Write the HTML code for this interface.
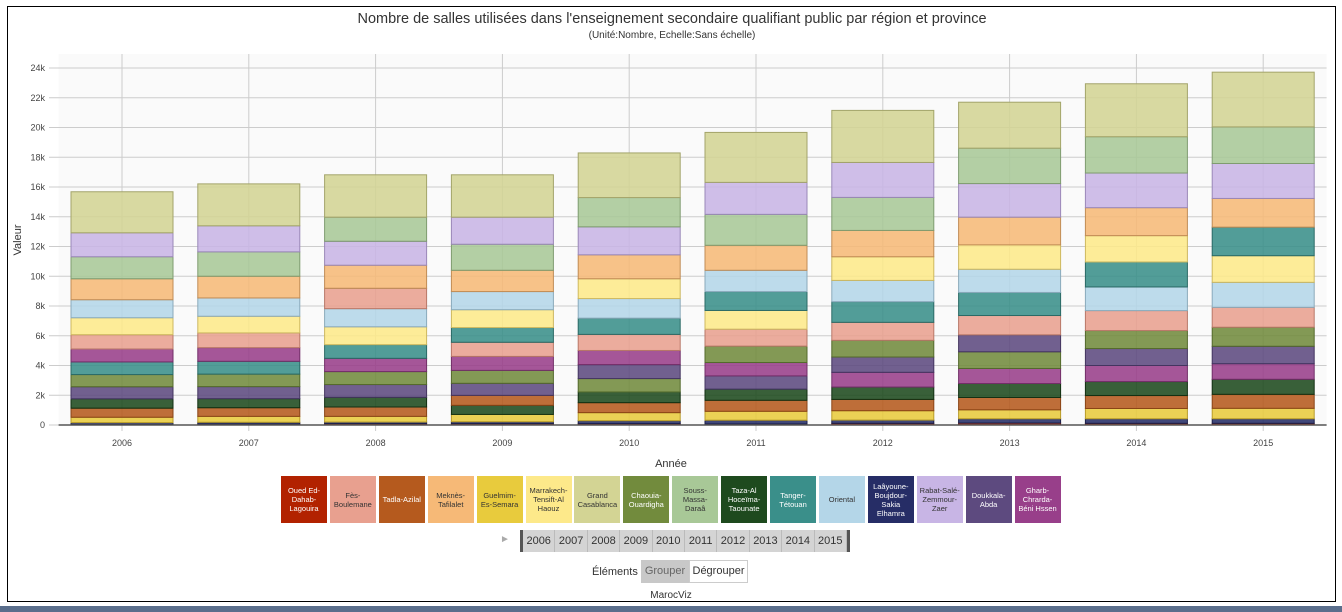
<!DOCTYPE html>
<html><head><meta charset="utf-8">
<style>
body{margin:0;width:1342px;height:612px;overflow:hidden;background:#fff;font-family:"Liberation Sans",sans-serif;position:relative}
#frame{position:absolute;left:7px;top:6px;width:1329px;height:596px;border:1.5px solid #000;box-sizing:border-box}
#strip{position:absolute;left:0;top:606px;width:1342px;height:6px;background:#5a6e8c}
.leg{position:absolute;top:476px;width:46px;height:47px;font-size:7.5px;line-height:9px;text-align:center;display:flex;align-items:center;justify-content:center;color:#fff;box-sizing:border-box;padding:0 2px;word-break:break-word}
#years{position:absolute;left:520px;top:530px;width:330px;height:22px;background:#d4d4d4;border-left:3px solid #555;border-right:3px solid #555;box-sizing:border-box;display:flex}
#years div{width:32.4px;font-size:11px;line-height:22px;text-align:center;color:#333;border-right:1px solid #bbb;box-sizing:border-box}
</style></head><body>
<div id="frame"></div>
<div id="strip"></div>
<svg id="chart" width="1342" height="470" style="position:absolute;left:0;top:0">
<text x="672" y="23" text-anchor="middle" font-size="14.5" fill="#333">Nombre de salles utilisées dans l'enseignement secondaire qualifiant public par région et province</text>
<text x="672" y="38" text-anchor="middle" font-size="10" fill="#333">(Unité:Nombre, Echelle:Sans échelle)</text>
<text transform="translate(21,240) rotate(-90)" text-anchor="middle" font-size="11" fill="#333">Valeur</text>
<text x="671" y="467" text-anchor="middle" font-size="11" fill="#333">Année</text>
<g id="grid"></g><g id="bars"></g>
</svg>
<div id="legend"></div>
<div style="position:absolute;left:500px;top:534px;font-size:10px;color:#aaa">►</div>
<div id="years"></div>
<div style="position:absolute;left:592px;top:566px;font-size:11px;color:#333">Éléments</div>
<div style="position:absolute;left:641px;top:560px;width:48px;height:23px;background:#c8c8c8;font-size:11px;line-height:23px;text-align:center;color:#666">Grouper</div>
<div style="position:absolute;left:689px;top:560px;width:59px;height:23px;border:1px solid #ccc;box-sizing:border-box;font-size:11px;line-height:21px;text-align:center;color:#333">Dégrouper</div>
<div style="position:absolute;left:0;width:1342px;top:590px;text-align:center;font-size:10px;color:#333">MarocViz</div>
<script>
const years=["2006","2007","2008","2009","2010","2011","2012","2013","2014","2015"];
const yTicks=[0,2000,4000,6000,8000,10000,12000,14000,16000,18000,20000,22000,24000];
const yTickLabels=["0","2k","4k","6k","8k","10k","12k","14k","16k","18k","20k","22k","24k"];
const regions=["Oued Ed-Dahab-Lagouira","Fès-Boulemane","Tadla-Azilal","Meknès-Tafilalet","Guelmim-Es-Semara","Marrakech-Tensift-Al Haouz","Grand Casablanca","Chaouia-Ouardigha","Souss-Massa-Daraâ","Taza-Al Hoceïma-Taounate","Tanger-Tétouan","Oriental","Laâyoune-Boujdour-Sakia Elhamra","Rabat-Salé-Zemmour-Zaer","Doukkala-Abda","Gharb-Chrarda-Béni Hssen"];
const oued=[30,70,90,90,90,70,110,130,110,110];
const fes=[960,990,1370,950,1080,1140,1210,1300,1340,1340];
const tadla=[610,580,630,670,670,740,760,830,870,940];
const meknes=[1410,1460,1550,1430,1610,1680,1770,1860,1880,1930];
const guelmim=[360,400,380,490,540,600,630,600,690,700];
const marrakech=[1140,1120,1200,1200,1330,1260,1590,1640,1770,1790];
const casa=[2760,2820,2850,2850,3000,3360,3500,3090,3560,3680];
const chaouia=[820,840,870,870,900,1100,1120,1120,1210,1280];
const souss=[1480,1640,1620,1750,1970,2080,2220,2380,2440,2460];
const taza=[630,610,650,610,720,750,830,940,940,1010];
const tanger=[850,860,920,990,1090,1270,1390,1550,1680,1920];
const oriental=[1210,1230,1220,1220,1320,1430,1430,1560,1590,1680];
const laayoune=[130,110,110,130,200,250,220,290,310,310];
const rabat=[1610,1750,1610,1820,1880,2150,2350,2260,2330,2350];
const doukkala=[810,810,860,810,940,890,1030,1140,1140,1170];
const gharb=[870,920,890,940,950,900,990,1010,1080,1050];
const series=[oued,fes,tadla,meknes,guelmim,marrakech,casa,chaouia,souss,taza,tanger,oriental,laayoune,rabat,doukkala,gharb];
const colors=["#b22200","#e8a08f","#b55a1e","#f6b977","#e8cb3d","#fde98a","#d3d494","#728b3d","#a8c897","#1e4a1e","#3a8f8a","#b4d6e8","#262d66","#c8b5e5","#5d4a7f","#983f8a"];
const strokes=["#8a1a00","#b87868","#8a4416","#c08c56","#b89c2a","#cdb860","#a3a46a","#546a2c","#7f9c70","#123012","#2a6a66","#8aaabb","#1a1f4a","#9a88b8","#443560","#722e68"];
const legendText=["#fff","#333","#fff","#333","#333","#333","#333","#fff","#333","#fff","#fff","#333","#fff","#333","#fff","#fff"];
const NS="http://www.w3.org/2000/svg";
const X0=58.6,X1=1326.6,Y0=425,YT=68,PT=54;
const band=(X1-X0)/years.length;
const xc=i=>X0+band*(i+0.5);
const yS=v=>Y0-(v/24000)*(Y0-YT);
const grid=document.getElementById('grid'),bars=document.getElementById('bars');
function mk(t,a,p){const e=document.createElementNS(NS,t);for(const k in a)e.setAttribute(k,a[k]);p.appendChild(e);return e;}
const bg=mk('rect',{x:X0,y:PT,width:X1-X0,height:Y0-PT,fill:'#fafafa'},grid);


yTicks.forEach((v,i)=>{
  const l=mk('line',{x1:49,x2:X1,y1:yS(v),y2:yS(v),stroke:'#ccc','stroke-width':1},grid);
  
  
  const t=mk('text',{x:45,y:yS(v)+3,'text-anchor':'end','font-size':9,fill:'#444'},grid);
  t.textContent=yTickLabels[i];
  
  
});
years.forEach((yr,i)=>{
  const l=mk('line',{x1:xc(i),x2:xc(i),y1:PT,y2:Y0+6,stroke:'#ccc','stroke-width':1},grid);
  
  
  const t=mk('text',{x:xc(i),y:446,'text-anchor':'middle','font-size':9,fill:'#444'},grid);
  t.textContent=yr;
  
  
  const idx=series.map((s,k)=>k).sort((a,b)=>series[a][i]-series[b][i]);
  let cum=0;const bw=102;
  idx.forEach(k=>{
    const v=series[k][i];
    const r=mk('rect',{x:xc(i)-bw/2,y:yS(cum+v),width:bw,height:yS(cum)-yS(cum+v),fill:colors[k],'fill-opacity':0.88,stroke:strokes[k],'stroke-width':1},bars);
    
    
    cum+=v;
  });
});
const ax=mk('line',{x1:X0,x2:X1,y1:Y0,y2:Y0,stroke:'#555','stroke-width':1.5},bars);


const lg=document.getElementById('legend');
regions.forEach((r,k)=>{
  const d=document.createElement('div');
  d.className='leg';
  d.style.left=(281+k*48.9)+'px';
  d.style.background=colors[k];
  d.style.color=legendText[k];
  d.textContent=r;
  
  
  lg.appendChild(d);
});
const ys=document.getElementById('years');
years.forEach(yr=>{
  const d=document.createElement('div');
  d.textContent=yr;
  
  
  ys.appendChild(d);
});
</script>
</body></html>
